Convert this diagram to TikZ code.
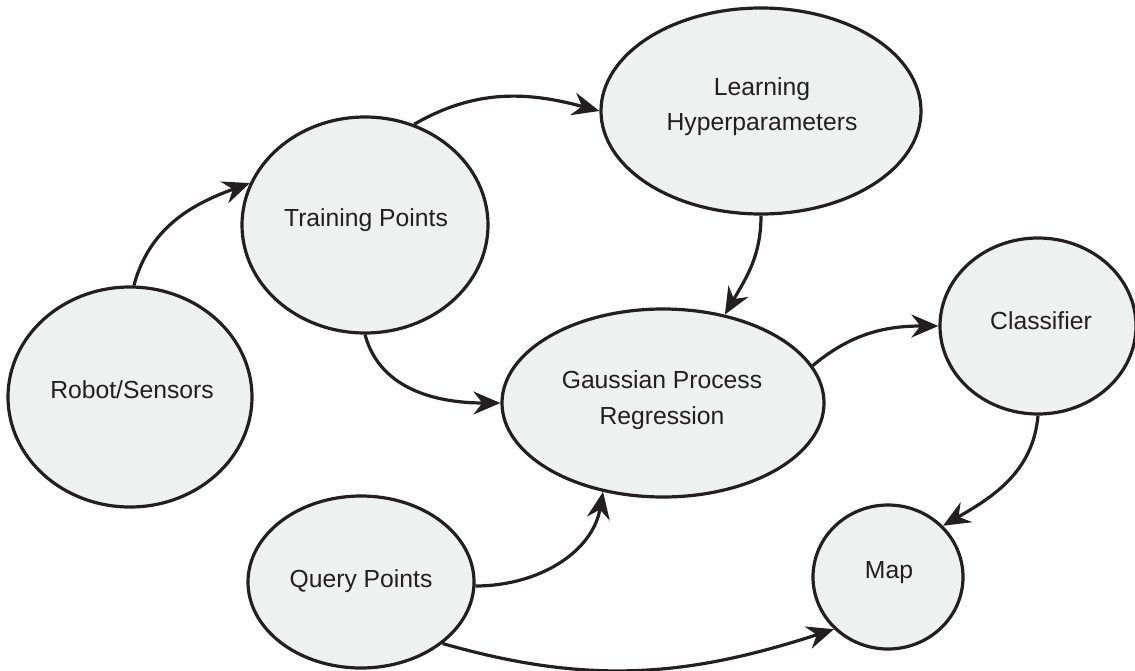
\documentclass[tikz,border=0pt]{standalone}
\usepackage{fontspec}
\setmainfont{Liberation Sans}
\usetikzlibrary{shapes.geometric,arrows.meta}

\definecolor{ink}{HTML}{231F20}
\definecolor{bubble}{HTML}{EFF0F0}

\tikzset{
  blob/.style={ellipse, draw=ink, fill=bubble, line width=3.2pt, inner sep=0pt},
  txt/.style={anchor=base, text=ink, inner sep=0pt, font=\fontsize{24.7}{30}\selectfont},
  flow/.style={draw=ink, line width=3.2pt,
    -{Stealth[length=27pt, width=23pt, inset=9pt]}},
}

\begin{document}
\begin{tikzpicture}[x=1pt, y=-1pt]
  \useasboundingbox (0,0) rectangle (1135,671);

  % bubbles
  \node[blob, minimum width=244pt, minimum height=220pt] (robot) at (130,397) {};
  \node[blob, minimum width=246pt, minimum height=216pt] (train) at (365,225) {};
  \node[blob, minimum width=320pt, minimum height=206pt] (learn) at (761,111) {};
  \node[blob, minimum width=322pt, minimum height=188pt] (gpr)   at (663,403) {};
  \node[blob, minimum width=196pt, minimum height=176pt] (clf)   at (1038,326) {};
  \node[blob, minimum width=226pt, minimum height=172pt] (query) at (361,582) {};
  \node[blob, minimum width=150pt, minimum height=144pt] (map)   at (888,577) {};

  % labels
  \node[txt] (robot-t) at (132,398) {Robot/Sensors};
  \node[txt] (train-t) at (366,227) {Training Points};
  \node[txt] (learn-t1) at (762,96) {Learning};
  \node[txt] (learn-t2) at (762,131) {Hyperparameters};
  \node[txt] (gpr-t1) at (662,388) {Gaussian Process};
  \node[txt] (gpr-t2) at (662,424) {Regression};
  \node[txt] (clf-t) at (1041,329) {Classifier};
  \node[txt] (query-t) at (361,587) {Query Points};
  \node[txt] (map-t) at (889,578) {Map};

  % data flow
  \draw[flow] (robot.88)  to[out=75,  in=200] (train.160);
  \draw[flow] (train.64)  to[out=30,  in=165] (learn.180);
  \draw[flow] (learn.270) to[out=-90, in=60]  (gpr.55);
  \draw[flow] (train.270) to[out=-75, in=180] (gpr.180);
  \draw[flow] (gpr.14)    to[out=40,  in=180] (clf.180);
  \draw[flow] (query.358) to[out=0,   in=-100] (gpr.236);
  \draw[flow] (query.323) to[out=-16, in=198] (map.224);
  \draw[flow] (clf.270)   to[out=-95, in=30]  (map.43);
\end{tikzpicture}
\end{document}
